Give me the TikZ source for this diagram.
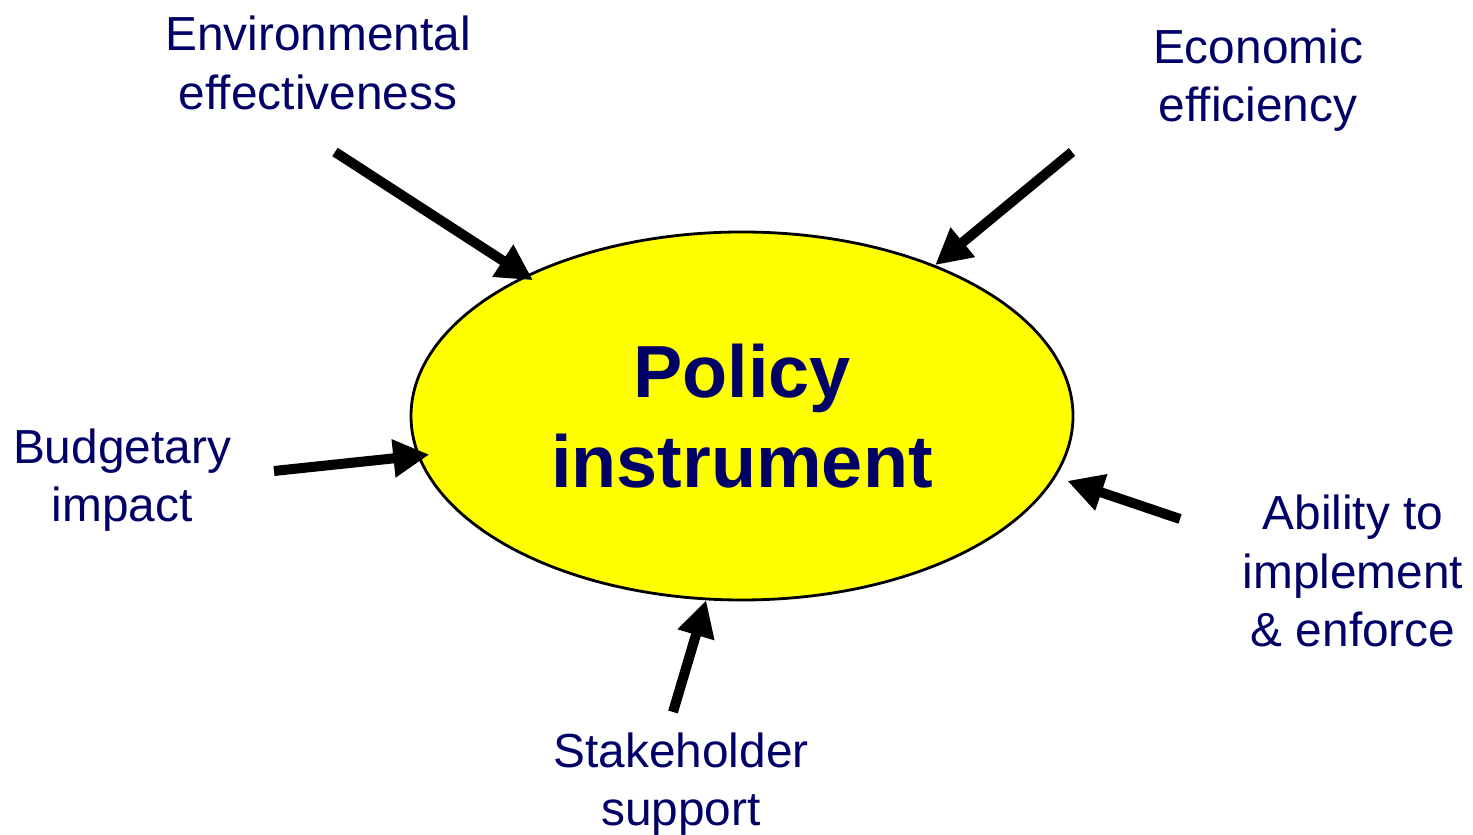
\documentclass[tikz,border=0pt]{standalone}
\usepackage{fontspec}
\setmainfont{Liberation Sans}
\usetikzlibrary{arrows.meta,shapes.geometric}
\definecolor{navy}{RGB}{0,0,102}
\definecolor{lemon}{RGB}{255,255,0}
\tikzset{
    lab/.style={
        text=navy, align=center,
        font=\fontsize{13.6}{16.6}\selectfont
    },
    push/.style={
        line width=0.1cm, -{Triangle[length=3.6mm,width=3.6mm]}
    }
}

\begin{document}
\begin{tikzpicture}[line cap=butt,line join=miter]

% --- canvas ---
    \useasboundingbox (0,0) rectangle (14.73,8.35);

% --- central ellipse ---
    \node[ellipse, draw=black, line width=0.8pt, fill=lemon,
          minimum width=6.62cm, minimum height=3.68cm, inner sep=0pt,
          text=navy, align=center,
          font=\fontsize{21}{25.6}\selectfont\bfseries]
        (pol) at (7.42,4.19) {Policy\\instrument};

% criteria around the instrument
    \node[lab] (env)   at ( 3.18,7.72) {Environmental\\effectiveness};
    \node[lab] (econ)  at (12.58,7.55) {Economic\\efficiency};
    \node[lab] (budg)  at ( 1.22,3.55) {Budgetary\\impact};
    \node[lab] (abil)  at (13.53,2.64) {Ability to\\implement\\\& enforce};
    \node[lab] (stake) at ( 6.81,0.51) {Stakeholder\\support};

% arrow tails
    \coordinate (envT)   at ( 3.35,6.83);
    \coordinate (econT)  at (10.72,6.83);
    \coordinate (budgT)  at ( 2.74,3.64);
    \coordinate (abilT)  at (11.80,3.16);
    \coordinate (stakeT) at ( 6.73,1.23);

% arrows onto the ellipse border
    \draw[push, shorten >=-0.9mm] (envT) -- (pol.147.5);
    \draw[push] (econT)  -- (pol.38.6);
    \draw[push, shorten >=-1.2mm] (budgT) -- (pol.187.1);
    \draw[push, shorten >=1.2mm] (abilT) -- (pol.349.8);
    \draw[push] (stakeT) -- (pol.259.6);

\end{tikzpicture}
\end{document}
